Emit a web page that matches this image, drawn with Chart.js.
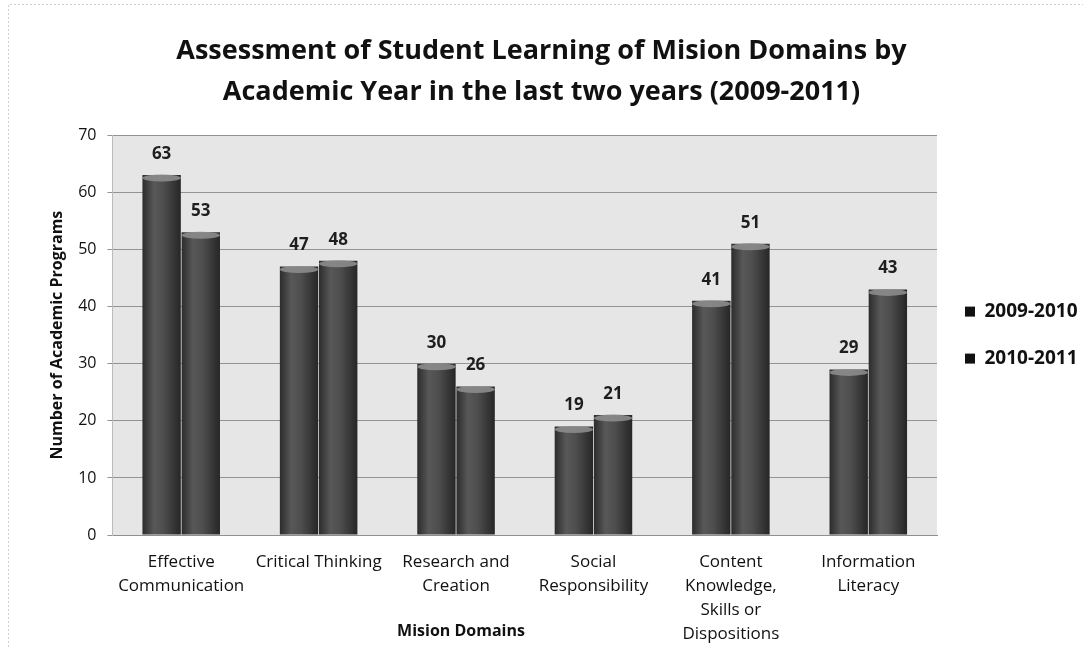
<!DOCTYPE html>
<html>
<head>
<meta charset="utf-8">
<script src="https://cdn.jsdelivr.net/npm/chart.js@4.4.1/dist/chart.umd.min.js"></script>
<style>
html,body{margin:0;padding:0;background:#fff;}
#wrap{position:relative;width:1083px;height:647px;}
</style>
</head>
<body>
<div id="wrap"><canvas id="c" width="1083" height="647"></canvas></div>
<script>
const categories = [
  ["Effective", "Communication"],
  ["Critical Thinking"],
  ["Research and", "Creation"],
  ["Social", "Responsibility"],
  ["Content", "Knowledge,", "Skills or", "Dispositions"],
  ["Information", "Literacy"]
];
const seriesNames = ["2009-2010", "2010-2011"];
const values2009 = [63, 47, 30, 19, 41, 29];
const values2010 = [53, 48, 26, 21, 51, 43];
const yTicks = [0, 10, 20, 30, 40, 50, 60, 70];
const titleLines = ["Assessment of Student Learning of Mision Domains by", "Academic Year in the last two years (2009-2011)"];
const xTitle = "Mision Domains";
const yTitle = "Number of Academic Programs";

const FONT = "'Open Sans', 'DejaVu Sans', sans-serif";

const plotBg = {
  id: 'plotBg',
  beforeDraw(chart) {
    const {ctx, chartArea: a} = chart;
    ctx.save();
    ctx.fillStyle = '#e6e6e6';
    ctx.fillRect(a.left, a.top, a.right - a.left, a.bottom - a.top);
    ctx.strokeStyle = '#cfcfcf';
    ctx.lineWidth = 1;
    ctx.setLineDash([2, 2]);
    ctx.beginPath();
    ctx.moveTo(8.5, 647); ctx.lineTo(8.5, 4.5); ctx.lineTo(1083, 4.5);
    ctx.stroke();
    ctx.restore();
  },
  beforeDatasetsDraw(chart) {
    const ctx = chart.ctx;
    chart.data.datasets.forEach((ds, di) => {
      chart.getDatasetMeta(di).data.forEach(bar => {
        const x0 = bar.x - bar.width / 2, x1 = bar.x + bar.width / 2;
        const g = ctx.createLinearGradient(x0, 0, x1, 0);
        g.addColorStop(0, '#2c2c2c');
        g.addColorStop(0.3, '#585858');
        g.addColorStop(0.55, '#4e4e4e');
        g.addColorStop(1, '#262626');
        bar.options = Object.assign({}, bar.options, { backgroundColor: g });
      });
    });
  }
};

const extras = {
  id: 'extras',
  afterDatasetsDraw(chart) {
    const ctx = chart.ctx;
    ctx.save();
    chart.data.datasets.forEach((ds, di) => {
      const meta = chart.getDatasetMeta(di);
      meta.data.forEach((bar, i) => {
        const w = bar.width;
        ctx.fillStyle = 'rgba(140,140,140,0.9)';
        ctx.beginPath();
        ctx.ellipse(bar.x, bar.y + 3, w / 2, 3.5, 0, 0, Math.PI * 2);
        ctx.fill();
        ctx.fillStyle = '#1e1e1e';
        ctx.font = "bold 17px " + FONT;
        ctx.textAlign = 'center';
        ctx.textBaseline = 'middle';
        ctx.fillText(String(ds.data[i]), bar.x, bar.y - 21);
      });
    });
    ctx.fillStyle = '#111';
    ctx.font = "bold 16px " + FONT;
    ctx.textAlign = 'center';
    ctx.textBaseline = 'middle';
    ctx.fillText(xTitle, 461, 631);
    ctx.restore();
  }
};

new Chart(document.getElementById('c'), {
  type: 'bar',
  data: {
    labels: categories,
    datasets: [
      { label: seriesNames[0], data: values2009, backgroundColor: () => '#4a4a4a', borderWidth: 0,
        categoryPercentage: 0.57, barPercentage: 0.98 },
      { label: seriesNames[1], data: values2010, backgroundColor: () => '#4a4a4a', borderWidth: 0,
        categoryPercentage: 0.57, barPercentage: 0.98 }
    ]
  },
  plugins: [plotBg, extras],
  options: {
    responsive: false,
    animation: false,
    devicePixelRatio: 1,
    layout: { padding: { left: 0, right: 0, top: 31, bottom: -6 } },
    plugins: {
      title: {
        display: true,
        text: titleLines,
        color: '#111',
        font: { family: FONT, size: 27, weight: 'bold', lineHeight: 1.52 },
        padding: { top: 0, bottom: 22 }
      },
      legend: {
        display: true,
        position: 'right',
        fullSize: false,
        maxWidth: 146,
        labels: {
          generateLabels(chart) {
            return chart.data.datasets.map((d, i) => ({
              text: d.label, fillStyle: '#111', strokeStyle: '#111', lineWidth: 0,
              datasetIndex: i, hidden: false, fontColor: '#111'
            }));
          },
          boxWidth: 10, boxHeight: 10,
          padding: 28,
          color: '#111',
          font: { family: FONT, size: 19, weight: 'bold' }
        }
      },
      tooltip: { enabled: false }
    },
    scales: {
      x: {
        grid: { display: false },
        border: { display: true, color: '#8f8f8f' },
        ticks: {
          color: '#111',
          font: { family: FONT, size: 17, lineHeight: 1.41 },
          maxRotation: 0, autoSkip: false, padding: 7
        }
      },
      y: {
        min: yTicks[0],
        max: yTicks[yTicks.length - 1],
        afterBuildTicks(scale) { scale.ticks = yTicks.map(v => ({ value: v })); },
        grid: { color: '#939393', lineWidth: 1, drawTicks: true, tickLength: 5 },
        border: { display: true, color: '#bbbbbb' },
        ticks: { color: '#111', font: { family: FONT, size: 16 }, padding: 11 },
        title: {
          display: true, text: yTitle, color: '#111',
          font: { family: FONT, size: 16, weight: 'bold' }, padding: { top: 48, bottom: 0 }
        }
      }
    }
  }
});
</script>
</body>
</html>
